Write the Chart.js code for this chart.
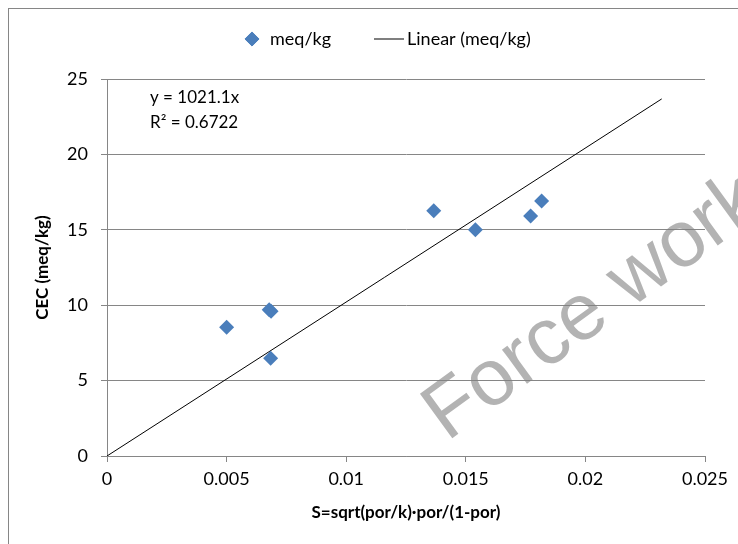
<!DOCTYPE html>
<html>
<head>
<meta charset="utf-8">
<script src="https://cdn.jsdelivr.net/npm/chart.js@4.4.1/dist/chart.umd.min.js"></script>
<style>
  html, body { margin: 0; padding: 0; background: #fff; }
  body { width: 738px; height: 544px; overflow: hidden; position: relative; }
  #frame { position: absolute; left: 8px; top: 8px; width: 760px; height: 560px; border: 1px solid #868686; box-sizing: border-box; }
  #wrap { position: absolute; left: 0; top: 0; width: 738px; height: 544px; }
</style>
</head>
<body>
<div id="frame"></div>
<div id="wrap"><canvas id="myChart"></canvas></div>
<script>
// measured samples: S parameter vs CEC
const sValues = [0.00500, 0.00678, 0.00686, 0.00684, 0.01366, 0.01540, 0.01771, 0.01817];
const cecValues = [8.53, 9.70, 9.60, 6.48, 16.27, 15.01, 15.92, 16.91];

// linear fit through origin
const fitSlope = 1021.1;
const fitRange = [0, 0.02319];
const fitLabel = ["y = 1021.1x", "R\u00b2 = 0.6722"];

const xTickValues = [0, 0.005, 0.01, 0.015, 0.02, 0.025];
const xTickLabels = ["0", "0.005", "0.01", "0.015", "0.02", "0.025"];
const yTickValues = [0, 5, 10, 15, 20, 25];
const yTickLabels = ["0", "5", "10", "15", "20", "25"];

const seriesName = "meq/kg";
const fitName = "Linear (meq/kg)";
const xTitle = "S=sqrt(por/k)\u00b7por/(1-por)";
const yTitle = "CEC (meq/kg)";

const FONT = "Lato";
const GRID = "#868686";
const BLUE = "#4a7ebb";

// short black stroke used as the trendline legend swatch
const lineSwatch = document.createElement("canvas");
lineSwatch.width = 30;
lineSwatch.height = 2;
const sw = lineSwatch.getContext("2d");
sw.fillStyle = "#000";
sw.fillRect(0, 0.5, 30, 1);

const points = sValues.map((s, i) => ({ x: s, y: cecValues[i] }));
const fitPoints = fitRange.map((s) => ({ x: s, y: fitSlope * s }));

// keep the legend a fixed height and place its row
const legendPlace = {
  id: "legendPlace",
  beforeLayout(chart) {
    const legend = chart.legend;
    if (legend && !legend._fixed) {
      const fit = legend.fit;
      legend.fit = function () {
        fit.call(this);
        this.height = 79;
      };
      legend._fixed = true;
    }
  },
  afterLayout(chart) {
    chart.legend.left = 194;
    chart.legend.top = -19;
  },
};

// equation text and the watermark
const annotate = {
  id: "annotate",
  afterDraw(chart) {
    const ctx = chart.ctx;
    const a = chart.chartArea;
    ctx.save();
    ctx.fillStyle = "#000";
    ctx.font = "17px " + FONT;
    ctx.textBaseline = "middle";
    ctx.textAlign = "left";
    ctx.fillText(fitLabel[0], a.left + 43, a.top + 19);
    ctx.fillText(fitLabel[1], a.left + 43, a.top + 44);

    ctx.translate(447, 442);
    ctx.rotate((-36 * Math.PI) / 180);
    ctx.font = '80px "Liberation Sans"';
    ctx.fillStyle = "rgba(128,128,128,0.6)";
    ctx.textBaseline = "alphabetic";
    ctx.fillText("Force work", 0, 0);
    ctx.restore();
  },
};

const ctx = document.getElementById("myChart").getContext("2d");
const myChart = new Chart(ctx, {
  type: "scatter",
  data: {
    datasets: [
      {
        label: seriesName,
        data: points,
        pointStyle: "rectRot",
        pointRadius: 7.5,
        pointHoverRadius: 7.5,
        backgroundColor: BLUE,
        borderColor: BLUE,
        borderWidth: 0,
      },
      {
        label: fitName,
        type: "line",
        data: fitPoints,
        borderColor: "#000",
        borderWidth: 1,
        pointRadius: 0,
        fill: false,
      },
    ],
  },
  options: {
    responsive: true,
    maintainAspectRatio: false,
    animation: false,
    layout: { padding: { left: 0, right: 33, top: 0, bottom: 0 } },
    plugins: {
      tooltip: { enabled: false },
      legend: {
        position: "top",
        align: "start",
        labels: {
          usePointStyle: true,
          boxHeight: 10,
          padding: 49,
          color: "#000",
          font: { family: FONT, size: 18 },
          generateLabels: () => [
            {
              text: seriesName,
              pointStyle: "rectRot",
              fillStyle: BLUE,
              strokeStyle: BLUE,
              lineWidth: 1,
              datasetIndex: 0,
            },
            {
              text: fitName,
              pointStyle: lineSwatch,
              fillStyle: "#000",
              strokeStyle: "#000",
              lineWidth: 1,
              datasetIndex: 1,
            },
          ],
        },
      },
    },
    scales: {
      x: {
        type: "linear",
        min: 0,
        max: 0.025,
        afterBuildTicks: (s) => {
          s.ticks = xTickValues.map((v) => ({ value: v }));
        },
        afterFit: (s) => {
          s.height = 88;
        },
        ticks: {
          callback: (v, i) => xTickLabels[i],
          color: "#000",
          font: { family: FONT, size: 18 },
          padding: 6,
          maxRotation: 0,
        },
        grid: { drawOnChartArea: false, color: GRID, tickLength: 6 },
        border: { color: GRID, width: 1 },
        title: {
          display: true,
          text: xTitle,
          color: "#000",
          font: { family: FONT, size: 17, weight: "bold" },
          padding: { top: 0, bottom: 21 },
        },
      },
      y: {
        min: 0,
        max: 25,
        afterBuildTicks: (s) => {
          s.ticks = yTickValues.map((v) => ({ value: v }));
        },
        afterFit: (s) => {
          s.width = 107;
        },
        ticks: {
          callback: (v, i) => yTickLabels[i],
          color: "#000",
          font: { family: FONT, size: 18 },
          padding: 13,
        },
        grid: { color: GRID, tickLength: 6 },
        border: { color: GRID, width: 1 },
        title: {
          display: true,
          text: yTitle,
          color: "#000",
          font: { family: FONT, size: 17, weight: "bold" },
          padding: { top: 32, bottom: 0 },
        },
      },
    },
  },
  plugins: [legendPlace, annotate],
});
</script>
</body>
</html>
